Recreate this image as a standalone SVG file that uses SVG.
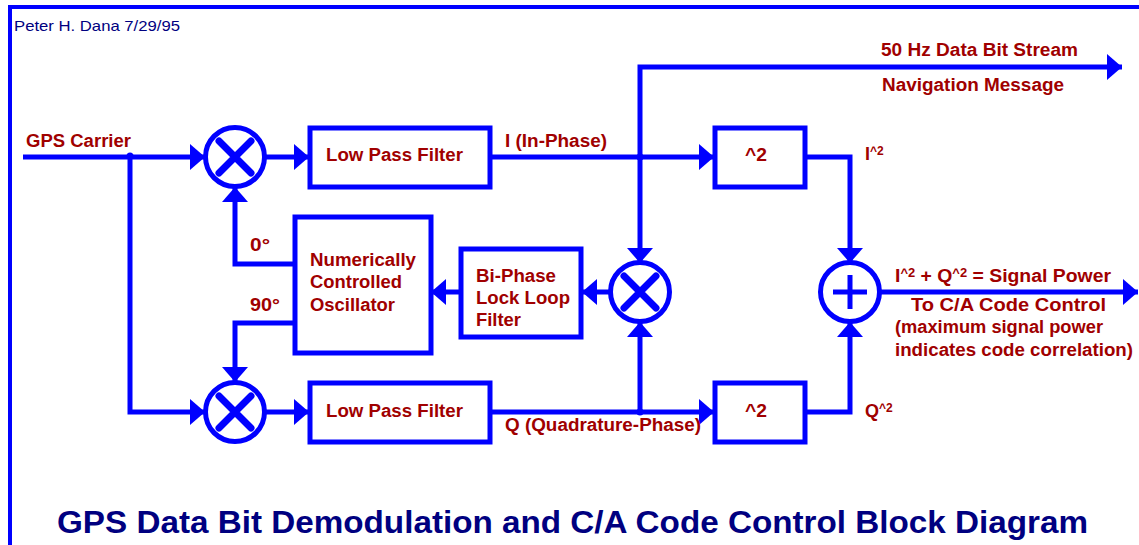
<svg xmlns="http://www.w3.org/2000/svg" width="1139" height="545" viewBox="0 0 1139 545">
<defs>
<marker id="arr" markerUnits="userSpaceOnUse" markerWidth="18" markerHeight="28" refX="15" refY="13" orient="auto"><path d="M0 0L15 13L0 26Z" fill="#0000ff"/></marker>
</defs>
<style>
.w{fill:none;stroke:#0000ff;stroke-width:5}
.b{fill:#fff;stroke:#0000ff;stroke-width:5}
.m{fill:none;stroke:#0000ff;stroke-width:7;stroke-linecap:round}
.p{fill:none;stroke:#0000ff;stroke-width:5}
text{font-family:"Liberation Sans",Arial,sans-serif;font-weight:bold;font-size:18px;fill:#a00000}
.c{fill:#0000ff;stroke:none}
</style>
<rect width="1139" height="545" fill="#fff"/>
<path d="M10 545V7H1139" fill="none" stroke="#0000ff" stroke-width="4"/>
<g id="connectors">
<path class="w" d="M23 157H205" marker-end="url(#arr)"/>
<path class="w" d="M130 157V412H205" marker-end="url(#arr)"/>
<path class="w" d="M266 157H309" marker-end="url(#arr)"/>
<path class="w" d="M491 157H714" marker-end="url(#arr)"/>
<path class="w" d="M640 157V67H1122" marker-end="url(#arr)"/>
<path class="w" d="M640 157V263" marker-end="url(#arr)"/>
<path class="w" d="M805 157H850V263" marker-end="url(#arr)"/>
<path class="w" d="M294 264H235V187" marker-end="url(#arr)"/>
<path class="w" d="M294 323H235V382" marker-end="url(#arr)"/>
<path class="w" d="M266 412H309" marker-end="url(#arr)"/>
<path class="w" d="M491 412H714" marker-end="url(#arr)"/>
<path class="w" d="M640 412V322" marker-end="url(#arr)"/>
<path class="w" d="M805 412H850V322" marker-end="url(#arr)"/>
<path class="w" d="M610 292H582" marker-end="url(#arr)"/>
<path class="w" d="M460 292H431" marker-end="url(#arr)"/>
<path class="w" d="M881 292H1138" marker-end="url(#arr)"/>
<circle class="c" cx="130" cy="156" r="3.5"/>
<circle class="c" cx="640" cy="157" r="3.5"/>
<circle class="c" cx="640" cy="412" r="3.5"/>
</g>
<g id="mixer-top"><circle class="b" cx="235" cy="157" r="29.5"/><path class="m" d="M219 141L251 173M251 141L219 173"/></g>
<g id="mixer-bottom"><circle class="b" cx="235" cy="412" r="29.5"/><path class="m" d="M219 396L251 428M251 396L219 428"/></g>
<g id="mixer-mid"><circle class="b" cx="640" cy="292" r="29.5"/><path class="m" d="M624 276L656 308M656 276L624 308"/></g>
<g id="sum"><circle class="b" cx="850" cy="292" r="29.5"/><path class="p" d="M833 292H867M850 275V309"/></g>
<g id="lpf-top"><rect class="b" x="310" y="128" width="180" height="59"/><text x="326" y="161" textLength="137" lengthAdjust="spacingAndGlyphs">Low Pass Filter</text></g>
<g id="lpf-bottom"><rect class="b" x="310" y="383" width="180" height="59"/><text x="326" y="417" textLength="137" lengthAdjust="spacingAndGlyphs">Low Pass Filter</text></g>
<g id="square-top"><rect class="b" x="715" y="128" width="90" height="59"/><text x="745" y="161" textLength="22" lengthAdjust="spacingAndGlyphs">^2</text></g>
<g id="square-bottom"><rect class="b" x="715" y="383" width="90" height="59"/><text x="745" y="417" textLength="22" lengthAdjust="spacingAndGlyphs">^2</text></g>
<g id="nco"><rect class="b" x="295" y="217" width="136" height="136"/><text x="310" y="266" textLength="106" lengthAdjust="spacingAndGlyphs">Numerically</text><text x="310" y="288" textLength="92" lengthAdjust="spacingAndGlyphs">Controlled</text><text x="310" y="311" textLength="85" lengthAdjust="spacingAndGlyphs">Oscillator</text></g>
<g id="loop-filter"><rect class="b" x="461" y="249" width="120" height="88"/><text x="476" y="282" textLength="80" lengthAdjust="spacingAndGlyphs">Bi-Phase</text><text x="476" y="304" textLength="94" lengthAdjust="spacingAndGlyphs">Lock Loop</text><text x="476" y="326" textLength="45" lengthAdjust="spacingAndGlyphs">Filter</text></g>
<g id="labels">
<text x="14" y="31" textLength="166" lengthAdjust="spacingAndGlyphs" style="font-weight:normal;font-size:15px;fill:#000080">Peter H. Dana 7/29/95</text>
<text x="26" y="147" textLength="105" lengthAdjust="spacingAndGlyphs">GPS Carrier</text>
<text x="881" y="56" textLength="197" lengthAdjust="spacingAndGlyphs">50 Hz Data Bit Stream</text>
<text x="882" y="91" textLength="182" lengthAdjust="spacingAndGlyphs">Navigation Message</text>
<text x="505" y="147" textLength="102" lengthAdjust="spacingAndGlyphs">I (In-Phase)</text>
<text x="865" y="160">I<tspan dy="-5" font-size="12">^2</tspan></text>
<text x="250" y="251" textLength="20" lengthAdjust="spacingAndGlyphs">0°</text>
<text x="250" y="311" textLength="30" lengthAdjust="spacingAndGlyphs">90°</text>
<text x="505" y="431" textLength="196" lengthAdjust="spacingAndGlyphs">Q (Quadrature-Phase)</text>
<text x="865" y="417">Q<tspan dy="-5" font-size="12">^2</tspan></text>
<text x="895" y="282" textLength="216" lengthAdjust="spacingAndGlyphs">I<tspan dy="-5" font-size="12">^2</tspan><tspan dy="5"> + Q</tspan><tspan dy="-5" font-size="12">^2</tspan><tspan dy="5">  = Signal Power</tspan></text>
<text x="911" y="311" textLength="195" lengthAdjust="spacingAndGlyphs">To C/A Code Control</text>
<text x="895" y="333" textLength="208" lengthAdjust="spacingAndGlyphs">(maximum signal power</text>
<text x="895" y="356" textLength="238" lengthAdjust="spacingAndGlyphs">indicates code correlation)</text>
<text x="57" y="533" textLength="1031" lengthAdjust="spacingAndGlyphs" style="font-size:30.5px;fill:#000080">GPS Data Bit Demodulation and C/A Code Control Block Diagram</text>
</g>
</svg>
